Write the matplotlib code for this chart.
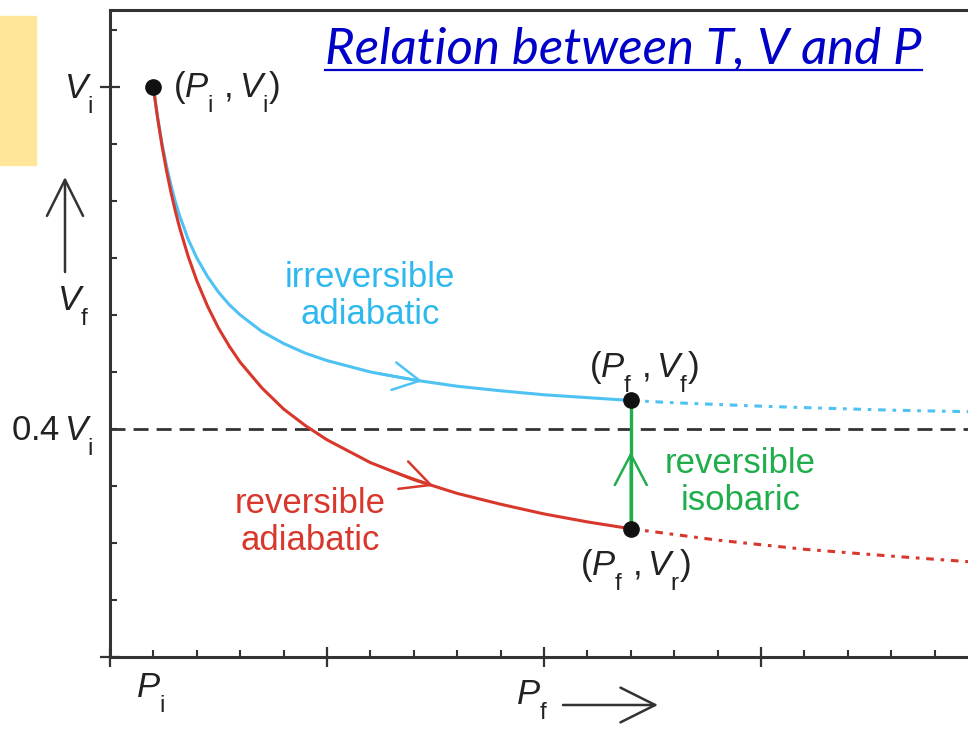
import numpy as np
import matplotlib
matplotlib.use('Agg')
import matplotlib.pyplot as plt
from matplotlib.lines import Line2D
from matplotlib.patches import Rectangle

plt.rcParams['font.family'] = ['Liberation Sans', 'DejaVu Sans']
plt.rcParams['mathtext.fontset'] = 'custom'
plt.rcParams['mathtext.rm'] = 'Liberation Sans'
plt.rcParams['mathtext.it'] = 'Liberation Sans:italic'
# subscripts in the original sit well below the baseline
try:
    from matplotlib import _mathtext
    _mathtext.FontConstantsBase.sub1 = 0.8
except Exception:
    pass

# pressure in units of P_i, volume in units of V_i
p_path = [1, 1.05, 1.1, 1.15, 1.2, 1.3, 1.4, 1.5, 1.6, 1.8, 2, 2.25, 2.5, 2.75,
          3, 3.5, 4, 4.5, 5, 6, 7, 8, 9, 10, 11, 12]
v_irrev = [1.0, 0.971, 0.945, 0.922, 0.90, 0.862, 0.829, 0.80, 0.775, 0.733, 0.70,
           0.667, 0.64, 0.618, 0.60, 0.571, 0.55, 0.533, 0.52, 0.50, 0.486, 0.475,
           0.467, 0.46, 0.455, 0.45]
v_rev = [1.0, 0.971, 0.944, 0.920, 0.896, 0.854, 0.817, 0.784, 0.754, 0.703, 0.66,
         0.615, 0.577, 0.545, 0.517, 0.472, 0.435, 0.406, 0.381, 0.341, 0.311, 0.287,
         0.268, 0.251, 0.237, 0.225]
p_beyond = [12, 13, 14, 15, 16, 18, 20]
v_irrev_beyond = [0.45, 0.446, 0.443, 0.44, 0.4375, 0.433, 0.43]
v_rev_beyond = [0.225, 0.215, 0.205, 0.197, 0.189, 0.177, 0.166]
v_limit = 0.4

y_label_vals = [1.0, 0.4]
y_label_txt = [r'$V_{\mathrm{i}}$', r'$0.4\,V_{\mathrm{i}}$']
x_label_vals = [1]
x_label_txt = [r'$P_{\mathrm{i}}$']

BLUE = '#4EC3F3'
RED = '#D8372C'
GREEN = '#1FAE4B'
INK = '#333333'

W, H = 968, 731
fig = plt.figure(figsize=(W / 100, H / 100), dpi=100)
fig.patch.set_facecolor('white')
ax = fig.add_axes([110 / W, (H - 657) / H, 868 / W, 647 / H])

ax.set_xlim(0, 20)
ax.set_ylim(0, 1.135)

# curves
ax.plot(p_path, v_irrev, color=BLUE, lw=2.2, solid_capstyle='round')
ax.plot(p_path, v_rev, color=RED, lw=2.2, solid_capstyle='round')
ax.plot(p_beyond, v_irrev_beyond, color=BLUE, lw=2.2, ls=(0, (2.5, 2.2, 1.2, 2.2)))
ax.plot(p_beyond, v_rev_beyond, color=RED, lw=2.2, ls=(0, (2.5, 2.2, 1.2, 2.2)))
ax.axhline(v_limit, color=INK, lw=2.0, ls=(0, (5.4, 2.9)), zorder=1)

p_f = p_path[-1]
ax.plot([p_f, p_f], [v_rev[-1], v_irrev[-1]], color=GREEN, lw=2.4)
ax.plot([p_path[0], p_f, p_f], [v_irrev[0], v_irrev[-1], v_rev[-1]], 'o',
        color='#111111', ms=11, zorder=5)

# direction chevrons
def chevron(tip, tail, color, hl, hw, coords='data'):
    ax.annotate('', xy=tip, xytext=tail, xycoords=coords, textcoords=coords,
                annotation_clip=False,
                arrowprops=dict(arrowstyle=f'->,head_length={hl},head_width={hw}',
                                color=color, lw=1.8, shrinkA=0, shrinkB=0,
                                mutation_scale=10))

chevron((7.2, np.interp(7.2, p_path, v_irrev)), (6.2, np.interp(6.2, p_path, v_irrev)),
        BLUE, 1.9, 1.0)
chevron((7.45, np.interp(7.45, p_path, v_rev)), (6.5, np.interp(6.5, p_path, v_rev)),
        RED, 2.1, 1.05)
v_mid = v_rev[-1] + 0.6 * (v_irrev[-1] - v_rev[-1])
chevron((p_f, v_mid), (p_f, v_rev[-1]), GREEN, 2.2, 1.15)

# axis arrows (figure pixels, origin bottom-left)
chevron((65, H - 177), (65, H - 272), INK, 2.6, 1.3, coords='figure pixels')
chevron((658, H - 705), (563, H - 705), INK, 2.5, 1.25, coords='figure pixels')

# spines and ticks
for s in ['left', 'bottom', 'top']:
    ax.spines[s].set_linewidth(2.2)
    ax.spines[s].set_color(INK)
ax.spines['right'].set_visible(False)

ax.set_xticks([0, 5, 10, 15, 20])
ax.set_xticks(np.arange(1, 20), minor=True)
ax.set_yticks([0, 1.0])
ax.set_yticks(np.arange(1, 12) / 10, minor=True)
ax.set_xticklabels([])
ax.set_yticklabels([])
ax.tick_params(which='major', direction='inout', length=14, width=1.6, color=INK)
ax.tick_params(which='minor', direction='in', length=5, width=1.5, color=INK)

FS = 25
for v, t in zip(y_label_vals, y_label_txt):
    ax.annotate(t, xy=(0, v), xycoords=('axes fraction', 'data'), xytext=(-12, -5),
                textcoords='offset points', ha='right', va='center',
                fontsize=FS, color='#222222', annotation_clip=False)
for p, t in zip(x_label_vals, x_label_txt):
    ax.annotate(t, xy=(p, 0), xycoords=('data', 'axes fraction'), xytext=(-2, -26),
                textcoords='offset points', ha='center', va='center',
                fontsize=FS, color='#222222', annotation_clip=False)

fig.text(73 / W, 1 - 306 / H, r'$V_{\mathrm{f}}$', ha='center', va='center',
         fontsize=FS, color='#222222')
fig.text(532 / W, 1 - 700 / H, r'$P_{\mathrm{f}}$', ha='center', va='center',
         fontsize=FS, color='#222222')

# point labels
ax.text(1.45, 0.99, r'$(P_{\mathrm{i}}\ ,V_{\mathrm{i}})$', ha='left', va='center',
        fontsize=FS, color='#222222')
ax.text(12.3, 0.50, r'$(P_{\mathrm{f}}\ ,V_{\mathrm{f}})$', ha='center', va='center',
        fontsize=FS, color='#222222')
ax.text(12.12, 0.152, r'$(P_{\mathrm{f}}\ ,V_{\mathrm{r}})$', ha='center', va='center',
        fontsize=FS, color='#222222')

# curve labels
ax.text(5.99, 0.633, 'irreversible\nadiabatic', ha='center', va='center',
        fontsize=25, color='#2DB8EE', linespacing=1.15)
ax.text(4.61, 0.237, 'reversible\nadiabatic', ha='center', va='center',
        fontsize=25, color=RED, linespacing=1.15)
ax.text(14.52, 0.307, 'reversible\nisobaric', ha='center', va='center',
        fontsize=25, color=GREEN, linespacing=1.15)

# yellow tab at the left
fig.patches.append(Rectangle((0, 1 - 165 / H), 36 / W, 149 / H,
                             transform=fig.transFigure, color='#FFE699', zorder=0))

# underlined title
title = fig.text(325 / W, 1 - 63 / H, 'Relation between T, V and P', ha='left',
                 va='baseline', fontfamily=['Lato', 'DejaVu Sans'], style='italic',
                 fontsize=36, color='#0000C8')
r = fig.canvas.get_renderer()
w = title.get_window_extent(r).width
title.set_fontsize(36 * 597 / w)
bb = title.get_window_extent(r)
fig.add_artist(Line2D([bb.x0 / W, bb.x1 / W], [1 - 70 / H, 1 - 70 / H],
                      color='#0000C8', lw=1.6, transform=fig.transFigure))

fig.savefig('out.png', dpi=100)
